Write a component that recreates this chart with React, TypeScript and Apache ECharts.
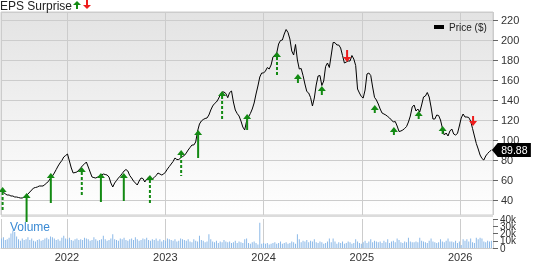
import React, { useEffect, useRef } from 'react';
import * as echarts from 'echarts';

// Weekly observations starting at this date
const weekStart = '2021-05-03';
const axisStart = '2021-05-01';
const axisEnd = '2026-05-03';

const prices = [
  49, 48, 46, 45, 45, 44, 44, 43, 43, 42.5,
  42, 42, 43, 44, 46, 48, 50, 52, 52.5, 53,
  54, 54, 54, 55.5, 57, 59, 62, 64, 67, 70.5,
  74, 77, 79.5, 83, 84.5, 86, 79, 72, 67, 67.5,
  68, 70, 72, 74.5, 76, 78, 73, 68, 63, 62.4,
  62, 63, 64, 65, 66, 65.5, 65, 63, 57, 53,
  57, 59.5, 62, 64, 66.5, 69, 70.5, 69, 64.5, 62,
  59, 57, 55, 59, 62, 61.5, 58, 61, 62.7, 61.5,
  61, 62.5, 64.5, 67, 66, 65, 66, 68, 71, 73.5,
  76, 78.5, 82, 80.5, 80.5, 82, 83.5, 84.5, 87, 90,
  92.5, 95, 95, 98, 109, 116, 119, 120.5, 121.5, 122,
  125, 130, 134, 136.5, 138, 141, 145, 148, 148, 146.5,
  142.3, 147.5, 149, 138, 130, 126.5, 124, 119, 113, 110,
  119, 123, 126.5, 131, 137, 146, 154, 163, 167, 167,
  169, 172.5, 171, 175, 183, 185, 187, 196, 199.5, 200,
  206, 210.5, 207.5, 201, 189, 185, 195.5, 180, 171, 171.5,
  164.5, 156, 148.5, 147, 142.5, 134, 142, 155, 164, 164.5,
  154.5, 159, 173.5, 177, 172.5, 185, 197.5, 197.3, 195, 195,
  192, 184.5, 177, 178, 179, 179, 184.5, 181, 174.5, 151,
  147, 143.5, 142, 150, 166, 167, 164.5, 153, 142.7, 140,
  136, 131, 127, 126, 125, 123.5, 122, 120, 118, 118.5,
  114, 108.5, 109, 110, 111.5, 113.5, 118, 124, 133, 135,
  129, 131, 128, 135, 143, 144, 147.5, 143, 133, 121,
  121, 125, 124.5, 120, 112, 105, 107, 104, 109, 111,
  106, 105, 106.5, 114, 122, 126, 123, 123, 122.5, 119,
  111.5, 104, 96.5, 91, 85, 81.5, 80, 84, 86.5, 88.5, 89.88,
];

// weekly volume, thousands
const volumesK = [
  13, 15, 11, 12, 14, 20, 24, 22, 16, 12, 10, 13, 11, 12, 15, 11, 13, 10, 9, 11,
  12, 10, 11, 13, 14, 12, 16, 15, 13, 11, 12, 10, 14, 17, 13, 12, 14, 11, 10, 12,
  13, 11, 12, 11, 14, 13, 12, 10, 11, 15, 12, 10, 11, 12, 17, 12, 10, 11, 13, 19,
  12, 11, 10, 13, 12, 14, 11, 10, 12, 13, 11, 15, 12, 10, 11, 13, 12, 14, 11, 10,
  12, 11, 13, 10, 12, 9, 11, 10, 13, 12, 11, 10, 12, 9, 10, 13, 12, 11, 10, 12,
  9, 8, 12, 10, 9, 17, 11, 10, 8, 9, 19, 12, 9, 8, 10, 7, 9, 8, 11, 9,
  8, 9, 7, 8, 10, 7, 9, 8, 7, 12, 13, 7, 6, 8, 9, 7, 5, 35, 6, 7,
  6, 7, 5, 6, 7, 8, 6, 7, 9, 6, 7, 8, 6, 7, 9, 8, 6, 19, 12, 8,
  10, 9, 11, 8, 10, 9, 12, 8, 7, 9, 8, 6, 7, 9, 13, 8, 13, 9, 6, 8,
  7, 9, 6, 7, 9, 8, 6, 7, 12, 9, 7, 6, 8, 10, 7, 9, 12, 8, 10, 9,
  8, 9, 7, 10, 8, 12, 7, 9, 10, 8, 13, 11, 8, 7, 9, 8, 14, 9, 8, 8,
  9, 8, 14, 10, 9, 8, 7, 10, 13, 9, 8, 7, 8, 12, 9, 8, 10, 13, 9, 9,
  8, 10, 7, 9, 4, 12, 10, 12, 9, 13, 8, 7, 14, 12, 14, 13, 9, 8, 10, 9, 10,
];

// EPS surprise markers
const epsDates = [
  '2021-05-07', '2021-08-04', '2021-11-02', '2022-02-25', '2022-05-07', '2022-07-31',
  '2022-11-05', '2023-03-01', '2023-05-03', '2023-07-31', '2023-11-01', '2024-02-20',
  '2024-05-08', '2024-08-05', '2024-11-07', '2025-02-18', '2025-04-30', '2025-07-31',
  '2025-10-28', '2026-02-18',
];
const epsTip = [53, 47, 67, 73, 67, 67, 65, 90, 110, 149, 126, 188, 166, 154, 178, 135, 113, 129, 114, 114];
const epsTail = [28, 18, 37, 44, 38, 39, 36, 64, 82, 120, 110, 165, 157, 145, 190, 127, 105, 121, 106, 124];
const epsDashed = [1, 0, 0, 1, 0, 0, 1, 1, 0, 1, 0, 1, 0, 0, 0, 0, 0, 0, 0, 0];
const epsBeat = [1, 1, 1, 1, 1, 1, 1, 1, 1, 1, 1, 1, 1, 1, 0, 1, 1, 1, 1, 0];

const priceTicks = [40, 60, 80, 100, 120, 140, 160, 180, 200, 220];
const volumeTicks = ['0', '10k', '20k', '30k', '40k'];

const FONT = 'Liberation Sans, Arial, sans-serif';
const GREEN = '#138a13';
const RED = '#ee1c1c';

function msToYear(ms: number) {
  const d = new Date(ms);
  const y = d.getUTCFullYear();
  const s = Date.UTC(y, 0, 1);
  const e = Date.UTC(y + 1, 0, 1);
  return y + (ms - s) / (e - s);
}
function dateToMs(str: string) {
  const [y, m, d] = str.split('-').map(Number);
  return Date.UTC(y, m - 1, d);
}
function dateToYear(str: string) {
  return msToYear(dateToMs(str));
}

export default function App() {
  const ref = useRef<HTMLDivElement>(null);

  useEffect(() => {
    if (!ref.current) return;
    const chart = echarts.init(ref.current, null, { renderer: 'svg' });
    const start = dateToMs(weekStart);
    const weekYears = prices.map((_, i) => msToYear(start + i * 7 * 86400000));
    const priceData = prices.map((p, i) => [weekYears[i], p]);
    const volData = volumesK.map((v, i) => [weekYears[i], v]);
    const epsData = epsDates.map((d, i) => [dateToYear(d), epsTip[i], epsTail[i], epsDashed[i], epsBeat[i]]);
    const xMin = dateToYear(axisStart);
    const xMax = dateToYear(axisEnd);
    const last = priceData[priceData.length - 1];

    const yearFmt = (v: number) => (Math.abs(v - Math.round(v)) < 1e-6 ? String(Math.round(v)) : '');
    const volLabel = (even: boolean) => (v: number) => {
      const k = Math.round(v / 10);
      return (k % 2 === 0) === even ? volumeTicks[k] ?? '' : '';
    };

    chart.setOption({
      animation: false,
      textStyle: { fontFamily: FONT },
      legend: {
        data: [{ name: 'Price ($)', icon: 'rect' }],
        left: 429,
        top: 17,
        itemWidth: 10,
        itemHeight: 4,
        itemGap: 5,
        textStyle: { fontSize: 10, color: '#222', fontFamily: FONT },
      },
      grid: [
        {
          left: 1, right: 40, top: 12, height: 203,
          show: true,
          borderColor: '#cccccc',
          borderWidth: 1,
          backgroundColor: new echarts.graphic.LinearGradient(0, 0, 0, 1, [
            { offset: 0, color: '#e3e3e3' },
            { offset: 1, color: '#ffffff' },
          ]),
        },
        { left: 1, right: 40, top: 219, height: 32 },
      ],
      xAxis: [
        {
          type: 'value', gridIndex: 0, min: xMin, max: xMax,
          axisLabel: { show: false }, axisLine: { show: false }, axisTick: { show: false },
          splitLine: { show: true, lineStyle: { color: '#cccccc', width: 1 } },
        },
        {
          type: 'value', gridIndex: 1, min: xMin, max: xMax,
          axisLabel: { show: true, formatter: yearFmt, fontSize: 11, color: '#333', margin: 3, showMinLabel: false, showMaxLabel: false },
          axisLine: { show: true, lineStyle: { color: '#cccccc' } },
          axisTick: { show: false },
          splitLine: { show: true, lineStyle: { color: '#cccccc', width: 1 } },
        },
      ],
      yAxis: [
        {
          type: 'value', gridIndex: 0, position: 'right', min: 25, max: 228, splitNumber: 10,
          axisLabel: {
            fontSize: 11, color: '#333', margin: 8,
            formatter: (v: number) => (priceTicks.includes(Math.round(v)) && Math.abs(v - Math.round(v)) < 1e-6 ? String(Math.round(v)) : ''),
            showMinLabel: false, showMaxLabel: false,
          },
          axisLine: { show: false },
          axisTick: { show: true, length: 5, lineStyle: { color: '#666' } },
          splitLine: { show: true, lineStyle: { color: '#cccccc', width: 1 } },
        },
        {
          type: 'value', gridIndex: 1, position: 'right', min: 0, max: 40, interval: 10,
          axisLabel: {
            fontSize: 10, color: '#333', margin: 7, lineHeight: 8,
            showMinLabel: true, showMaxLabel: true,
            formatter: volLabel(true),
          },
          axisLine: { show: false },
          axisTick: { show: true, length: 5, lineStyle: { color: '#666' } },
          splitLine: { show: false },
        },
        {
          type: 'value', gridIndex: 1, position: 'right', offset: 0, min: 0, max: 40, interval: 10,
          axisLabel: {
            fontSize: 10, color: '#333', margin: 7, lineHeight: 8,
            showMinLabel: true, showMaxLabel: true,
            formatter: volLabel(false),
          },
          axisLine: { show: false },
          axisTick: { show: false },
          splitLine: { show: false },
        },
      ],
      graphic: [
        {
          type: 'text', x: 0, y: 6, z: 10,
          style: { text: 'EPS Surprise', fontSize: 12, fontFamily: FONT, fill: '#222', verticalAlign: 'middle' },
        },
        { type: 'polygon', shape: { points: [[73, 5], [81, 5], [77, 1]] }, style: { fill: GREEN } },
        { type: 'rect', shape: { x: 76, y: 5, width: 2, height: 4 }, style: { fill: GREEN } },
        { type: 'rect', shape: { x: 86, y: 0, width: 2, height: 5 }, style: { fill: RED } },
        { type: 'polygon', shape: { points: [[83, 5], [91, 5], [87, 9]] }, style: { fill: RED } },
        { type: 'rect', shape: { x: 1, y: 215, width: 492, height: 2 }, style: { fill: '#dcdcdc' }, z: 5 },
        {
          type: 'text', x: 10, y: 227, z: 10,
          style: { text: 'Volume', fontSize: 12, fontFamily: FONT, fill: '#3a8ad4', verticalAlign: 'middle' },
        },
      ],
      series: [
        {
          name: 'Price ($)',
          type: 'line',
          xAxisIndex: 0, yAxisIndex: 0,
          data: priceData,
          showSymbol: false,
          symbol: 'none',
          lineStyle: { color: '#000', width: 1 },
          itemStyle: { color: '#000' },
          z: 3,
          markPoint: {
            symbol: 'path://M0 7 L7 0 L47 0 L47 14 L7 14 Z',
            symbolSize: [39, 14],
            symbolOffset: [20, 0],
            itemStyle: { color: '#000' },
            label: {
              show: true, position: 'inside', offset: [3, 0],
              color: '#fff', fontSize: 10.5, fontFamily: FONT,
              formatter: () => String(last[1]),
            },
            data: [{ coord: last }],
          },
        },
        {
          name: 'Volume',
          type: 'bar',
          xAxisIndex: 1, yAxisIndex: 1,
          data: volData,
          barWidth: 1,
          itemStyle: { color: '#8cb9e8' },
        },
        {
          name: 'EPS',
          type: 'custom',
          xAxisIndex: 0, yAxisIndex: 0,
          clip: false,
          z: 6,
          encode: { x: 0, y: [1, 2] },
          data: epsData,
          renderItem: (params: any, api: any) => {
            const x = api.value(0);
            const tip = api.coord([x, api.value(1)]);
            const tail = api.coord([x, api.value(2)]);
            const up = api.value(4) === 1;
            const dashed = api.value(3) === 1;
            const color = up ? GREEN : RED;
            const dir = up ? 1 : -1;
            const baseY = tip[1] + dir * 5;
            return {
              type: 'group',
              children: [
                {
                  type: 'line',
                  shape: { x1: tip[0], y1: baseY, x2: tail[0], y2: tail[1] },
                  style: { stroke: color, lineWidth: 2, lineDash: dashed ? [3, 2] : null },
                },
                {
                  type: 'polygon',
                  shape: { points: [[tip[0] - 4, baseY], [tip[0] + 4, baseY], [tip[0], tip[1]]] },
                  style: { fill: color },
                },
              ],
            };
          },
        },
      ],
    });
    return () => chart.dispose();
  }, []);

  return <div ref={ref} style={{ position: 'fixed', left: 0, top: 0, width: 533, height: 262 }} />;
}
